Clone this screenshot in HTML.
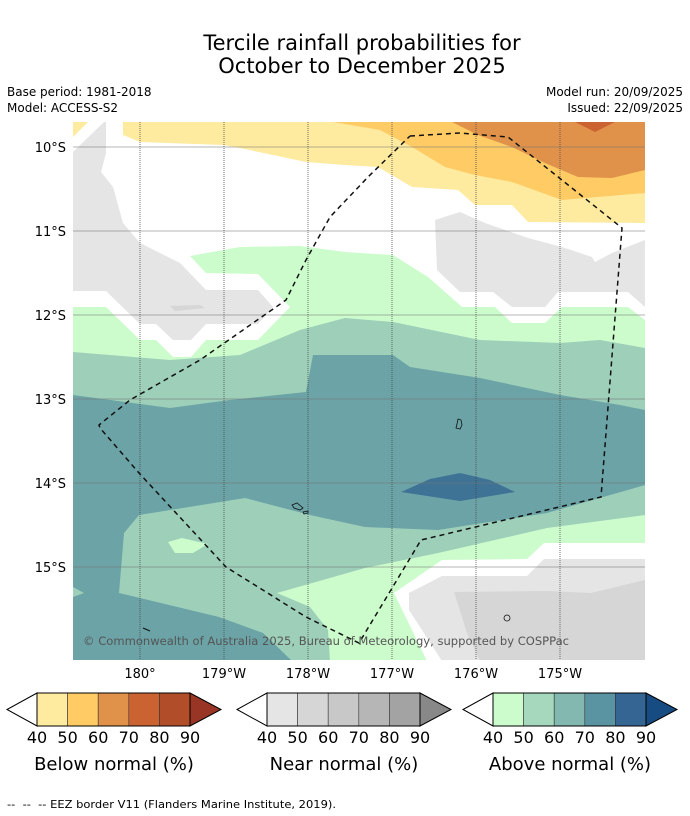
<!DOCTYPE html>
<html><head><meta charset="utf-8"><style>
body{margin:0;background:#fff;width:690px;height:816px;overflow:hidden;font-family:"Liberation Sans","DejaVu Sans",sans-serif}
svg{position:absolute;left:0;top:0}
</style></head><body>
<svg id="s" width="690" height="816" viewBox="0 0 690 816" font-family="DejaVu Sans, Liberation Sans, sans-serif">
<text x="362" y="50" text-anchor="middle" font-size="21" fill="#000">Tercile rainfall probabilities for</text>
<text x="362" y="73" text-anchor="middle" font-size="21" fill="#000">October to December 2025</text>
<text x="7" y="96" font-size="12">Base period: 1981-2018</text>
<text x="7" y="112" font-size="12">Model: ACCESS-S2</text>
<text x="683" y="96" font-size="12" text-anchor="end">Model run: 20/09/2025</text>
<text x="683" y="112" font-size="12" text-anchor="end">Issued: 22/09/2025</text>
<defs><clipPath id="pc"><rect x="73" y="122" width="572" height="538"/></clipPath></defs>
<g clip-path="url(#pc)">
<rect x="73" y="122" width="572" height="538" fill="#fff"/>
<polygon fill="#feeb9f" points="123,122 645,122 645,223 528,222 512,205 475,205 458,190 412,187 378,167 345,165 306,162 240,148 223,145 140,142 123,135"/>
<polygon fill="#fecb65" points="333,122 645,122 645,193 562,200 512,182 475,175 445,167 412,147 380,130"/>
<polygon fill="#e0924a" points="452,122 645,122 645,170 612,178 578,177 545,163 512,147 478,135"/>
<polygon fill="#cb6232" points="575,122 615,122 595,132"/>
<polygon fill="#feeb9f" points="73,122 88,122 73,137"/>
<polygon fill="#e5e5e5" points="73,152 104,122 106,122 106,153 101,172 113,187 123,223 140,243 180,263 206,290 258,290 273,307 258,324 206,324 191,340 173,340 156,324 140,324 106,291 73,291"/>
<polygon fill="#d6d6d6" points="170,306 200,305 205,308 175,311"/>
<polygon fill="#e5e5e5" points="435,220 460,212 485,223 528,238 562,247 592,257 595,262 612,253 645,240 645,307 628,292 558,292 545,307 512,307 493,292 460,292 437,270"/>
<polygon fill="#ccfccc" points="73,307 106,307 140,340 156,340 173,357 191,357 206,340 258,340 290,307 258,274 206,273 190,256 240,247 300,246 345,252 393,255 428,277 462,307 495,307 512,323 545,323 562,307 628,307 645,320 645,660 73,660"/>
<polygon fill="#9dcfb9" points="73,352 170,360 240,355 300,330 345,318 393,322 480,340 560,343 600,340 645,348 645,660 73,660"/>
<polygon fill="#6ba3a6" points="73,395 170,408 230,400 306,392 313,355 393,355 410,367 480,378 560,395 620,405 645,410 645,485 547,513 438,530 365,527 310,515 245,498 139,515 124,533 119,593 219,617 263,633 292,661 73,661"/>
<polygon fill="#9dcfb9" points="73,587 84,593 73,597"/>
<polygon fill="#ccfccc" points="168,542 182,538 208,544 193,553 175,553"/>
<polygon fill="#ccfccc" points="645,515 547,528 438,553 365,568 277,593 310,607 328,630 330,661 645,661"/>
<polygon fill="#fff" points="645,543 544,543 527,559 442,560 394,593 427,661 645,661"/>
<polygon fill="#e5e5e5" points="645,559 544,559 527,576 442,576 409,593 409,610 442,661 645,661"/>
<polygon fill="#d6d6d6" points="454,592 547,591 591,593 645,580 645,661 480,661 467,633"/>
<polygon fill="#3f7396" points="401,492 430,479 460,473 490,480 515,492 460,501"/>
<g id="grid"></g>
<path d="M458,419 l3,1 l1,5 l-2,4 l-4,-1 l1,-4z" fill="none" stroke="#111" stroke-width="0.8"/>
<path d="M292,505 l5,-2 l6,5 l-3,2 l-6,-2z M303,512 l5,-1 l0,2 l-4,1z" fill="none" stroke="#111" stroke-width="0.8"/>
<circle cx="507" cy="618" r="3" fill="none" stroke="#111" stroke-width="0.8"/>
<path d="M143,628 l7,3" stroke="#111" stroke-width="1.2"/>
<polyline fill="none" stroke="#111" stroke-width="1.5" stroke-dasharray="5,4" points="410,136 460,133 508,137 622,228 601,497 421,540 359,643 306,617 226,567 139,473 100,428 99,425 130,400 200,360 286,300 306,260 330,217 368,177 410,136"/>
<text x="83" y="645" font-size="11.3" fill="#555" textLength="486" lengthAdjust="spacingAndGlyphs">© Commonwealth of Australia 2025, Bureau of Meteorology, supported by COSPPac</text>
</g>
<g id="axes"></g>
<g id="cbars"></g>
<text x="7" y="808" font-size="11" xml:space="preserve" textLength="329" lengthAdjust="spacingAndGlyphs">--  --  -- EEZ border V11 (Flanders Marine Institute, 2019).</text>
</svg>
<script>
const latLabels=["10°S","11°S","12°S","13°S","14°S","15°S"];
const latValues=[-10,-11,-12,-13,-14,-15];
const lonLabels=["180°","179°W","178°W","177°W","176°W","175°W"];
const lonValues=[180,181,182,183,184,185];
const cbTicks=[40,50,60,70,80,90];
const belowColors=["#feeb9f","#fecb65","#e0924a","#cb6232","#b14d29","#993524"];
const nearColors=["#e5e5e5","#d6d6d6","#c8c8c8","#b6b6b6","#a3a3a3","#888888"];
const aboveColors=["#ccfccc","#a5d8bc","#82b8af","#5a93a1","#346593","#174c82"];
const NS="http://www.w3.org/2000/svg";
function yOf(lat){return 147+(-10-lat)*84;}
function xOf(lon){return 140+(lon-180)*84;}
function mk(t,a,p){const e=document.createElementNS(NS,t);for(const k in a)e.setAttribute(k,a[k]);p.appendChild(e);return e;}
const grid=document.getElementById('grid'),axes=document.getElementById('axes');
latValues.forEach((v,i)=>{
 const l=mk('line',{x1:73,x2:645,y1:yOf(v),y2:yOf(v),stroke:'#777','stroke-opacity':0.55,'stroke-width':1},grid);
 
 
 const t=mk('text',{x:66,y:yOf(v)+5,'text-anchor':'end','font-size':13},axes);t.textContent=latLabels[i];
 
 
});
lonValues.forEach((v,i)=>{
 const l=mk('line',{x1:xOf(v),x2:xOf(v),y1:122,y2:660,stroke:'#444','stroke-opacity':0.75,'stroke-width':1,'stroke-dasharray':'1,1'},grid);
 
 
 const t=mk('text',{x:xOf(v),y:678,'text-anchor':'middle','font-size':13},axes);t.textContent=lonLabels[i];
 
 
});
const cb=document.getElementById('cbars');
function bar(x0,colors,title,name){
 const g=mk('g',{},cb);
 
 
 const w=153/5,y0=693,h=33,xr=x0+153;
 mk('polygon',{points:`${x0},${y0} ${x0-30},${y0+h/2} ${x0},${y0+h}`,fill:'#fff',stroke:'#000','stroke-width':1},g);
 for(let i=0;i<5;i++){mk('rect',{x:x0+i*w,y:y0,width:w,height:h,fill:colors[i],stroke:'#333','stroke-width':0.6},g);}
 mk('polygon',{points:`${xr},${y0} ${xr+31},${y0+h/2} ${xr},${y0+h}`,fill:colors[5],stroke:'#000','stroke-width':1},g);
 mk('rect',{x:x0,y:y0,width:153,height:h,fill:'none',stroke:'#000','stroke-width':1},g);
 cbTicks.forEach((v,i)=>{const t=mk('text',{x:x0+(v-40)/10*w,y:743,'text-anchor':'middle','font-size':16},g);t.textContent=v;
  
  });
 const t=mk('text',{x:x0+77,y:770,'text-anchor':'middle','font-size':18},g);t.textContent=title;
 
 
}
bar(37,belowColors,'Below normal (%)','below-normal-colorbar');
bar(267,nearColors,'Near normal (%)','near-normal-colorbar');
bar(493,aboveColors,'Above normal (%)','above-normal-colorbar');
</script>
</body></html>
